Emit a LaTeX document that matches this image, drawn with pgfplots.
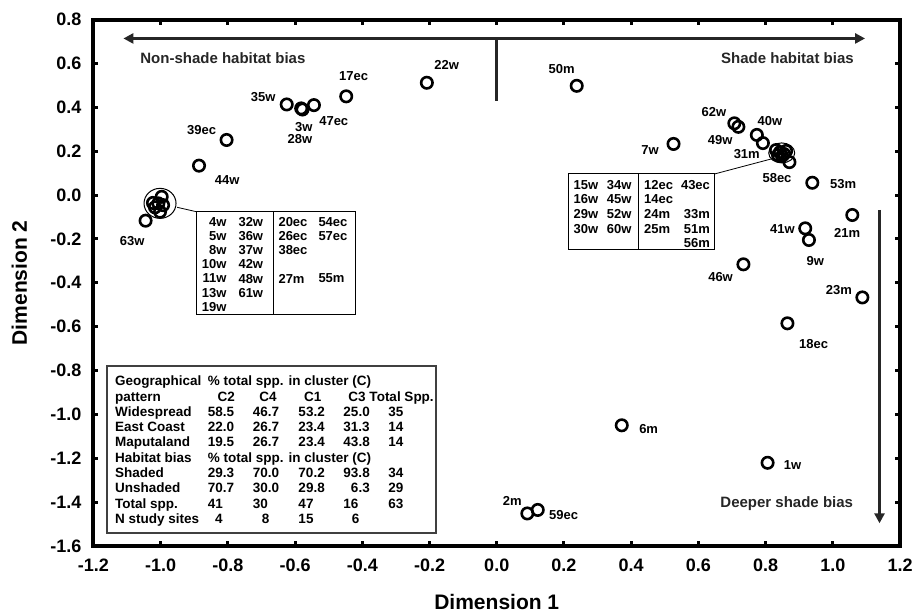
\documentclass[border=0pt]{standalone}
\usepackage{fontspec}
\setmainfont{Liberation Sans}
\usepackage{pgfplots}
\usepackage{pgfplotstable}
\pgfplotsset{compat=1.18}
\usetikzlibrary{arrows.meta}

% site scores on the two ordination dimensions
\pgfplotstableread{
x y
-0.208 0.512
-0.448 0.450
-0.544 0.410
-0.582 0.395
-0.578 0.390
-0.625 0.413
-0.804 0.251
-0.886 0.134
-1.045 -0.117
-0.997 -0.008
-1.007 -0.038
-1.017 -0.056
-1.002 -0.076
-0.993 -0.046
-1.023 -0.036
0.238 0.498
0.526 0.233
0.707 0.327
0.719 0.311
0.774 0.274
0.792 0.237
0.831 0.205
0.843 0.196
0.855 0.187
0.837 0.182
0.861 0.201
0.849 0.178
0.871 0.150
0.939 0.056
1.058 -0.091
0.918 -0.152
0.929 -0.205
0.734 -0.316
1.088 -0.467
0.865 -0.585
0.372 -1.050
0.806 -1.221
0.091 -1.452
0.122 -1.436
}\ordpts

\newcommand{\lbl}{\fontsize{13}{15}\selectfont\bfseries}
\newcommand{\ann}{\fontsize{15}{18}\selectfont\bfseries}

\begin{document}
\begin{tikzpicture}
\useasboundingbox (-93.5pt,-67.1pt) rectangle (818.5pt,545.9pt);
\begin{axis}[
  anchor=south west, at={(0pt,0pt)},
  scale only axis, width=806.5pt, height=526.3pt,
  xmin=-1.2, xmax=1.2, ymin=-1.6, ymax=0.8,
  xtick={-1.2,-1.0,-0.8,-0.6,-0.4,-0.2,0,0.2,0.4,0.6,0.8,1.0,1.2},
  ytick={-1.6,-1.4,-1.2,-1.0,-0.8,-0.6,-0.4,-0.2,0,0.2,0.4,0.6,0.8},
  tick align=inside,
  major tick length=5pt,
  tick style={line width=3pt, black},
  axis line style={line width=4pt, black},
  clip=false,
  /pgf/number format/.cd, fixed, fixed zerofill, precision=1, assume math mode=true,
  /pgfplots/.cd,
  ticklabel style={font=\fontsize{18}{20}\selectfont\bfseries, inner sep=0pt},
  xticklabel style={yshift=-12.4pt},
  yticklabel style={xshift=-11.8pt},
  xlabel={Dimension 1}, ylabel={Dimension 2},
  label style={font=\fontsize{21}{24}\selectfont\bfseries},
  xlabel style={at={(axis description cs:0.5,-0.1075)}, anchor=center},
  ylabel style={at={(axis description cs:-0.0918,0.5)}, anchor=center},
]

\addplot[only marks, mark=o, mark size=5.7pt, mark options={line width=2.6pt, draw=black}]
  table[x=x, y=y] {\ordpts};

% cluster outlines
\draw[line width=1pt] (axis cs:-1.002,-0.038) ellipse [x radius=16pt, y radius=15pt];
\draw[line width=1pt] (axis cs:0.848,0.192) ellipse [x radius=13pt, y radius=10pt];

% gradient arrows
\draw[line width=3pt, black!85, {Triangle[length=10pt,width=10pt]}-{Triangle[length=10pt,width=10pt]}]
  (axis cs:-1.111,0.714) -- (axis cs:1.096,0.714);
\draw[line width=3pt, black!85] (axis cs:0,0.714) -- (axis cs:0,0.43);
\draw[line width=3pt, black!85, -{Triangle[length=10pt,width=10pt]}]
  (axis cs:1.139,-0.068) -- (axis cs:1.139,-1.497);
\node[font=\ann, text=black!85] at (axis cs:-0.815,0.623) {Non-shade habitat bias};
\node[font=\ann, text=black!85] at (axis cs:0.865,0.622) {Shade habitat bias};
\node[font=\ann, text=black!85] at (axis cs:0.863,-1.406) {Deeper shade bias};

% point labels
\node[font=\lbl] at (axis cs:-0.149,0.591) {22w};
\node[font=\lbl] at (axis cs:-0.426,0.544) {17ec};
\node[font=\lbl] at (axis cs:-0.485,0.339) {47ec};
\node[font=\lbl] at (axis cs:-0.574,0.308) {3w};
\node[font=\lbl] at (axis cs:-0.586,0.254) {28w};
\node[font=\lbl] at (axis cs:-0.695,0.446) {35w};
\node[font=\lbl] at (axis cs:-0.878,0.296) {39ec};
\node[font=\lbl] at (axis cs:-0.802,0.068) {44w};
\node[font=\lbl] at (axis cs:-1.085,-0.208) {63w};
\node[font=\lbl] at (axis cs:0.193,0.575) {50m};
\node[font=\lbl] at (axis cs:0.646,0.377) {62w};
\node[font=\lbl] at (axis cs:0.813,0.337) {40w};
\node[font=\lbl] at (axis cs:0.665,0.251) {49w};
\node[font=\lbl] at (axis cs:0.744,0.186) {31m};
\node[font=\lbl] at (axis cs:0.456,0.205) {7w};
\node[font=\lbl] at (axis cs:0.834,0.079) {58ec};
\node[font=\lbl] at (axis cs:1.031,0.050) {53m};
\node[font=\lbl] at (axis cs:1.043,-0.172) {21m};
\node[font=\lbl] at (axis cs:0.850,-0.155) {41w};
\node[font=\lbl] at (axis cs:0.948,-0.301) {9w};
\node[font=\lbl] at (axis cs:0.666,-0.374) {46w};
\node[font=\lbl] at (axis cs:1.018,-0.435) {23m};
\node[font=\lbl] at (axis cs:0.943,-0.678) {18ec};
\node[font=\lbl] at (axis cs:0.452,-1.068) {6m};
\node[font=\lbl] at (axis cs:0.880,-1.233) {1w};
\node[font=\lbl] at (axis cs:0.046,-1.394) {2m};
\node[font=\lbl] at (axis cs:0.199,-1.461) {59ec};

% left cluster members
\draw[line width=0.8pt] (axis cs:-0.951,-0.056) -- (axis cs:-0.894,-0.076);
\draw[line width=1pt, fill=white] (axis cs:-0.894,-0.076) rectangle (axis cs:-0.419,-0.543);
\draw[line width=1pt] (axis cs:-0.665,-0.076) -- (axis cs:-0.665,-0.543);
\begin{scope}[every node/.style={font=\fontsize{13}{14.2}\selectfont\bfseries, inner sep=0pt}]
\node[align=right, anchor=north east] at (axis cs:-0.804,-0.100) {4w\\5w\\8w\\10w\\11w\\13w\\19w};
\node[align=left, anchor=north west] at (axis cs:-0.769,-0.100) {32w\\36w\\37w\\42w\\48w\\61w};
\node[align=left, anchor=north west] at (axis cs:-0.650,-0.100) {20ec\\26ec\\38ec\\\mbox{}\\27m};
\node[align=left, anchor=north west] at (axis cs:-0.531,-0.100) {54ec\\57ec\\\mbox{}\\\mbox{}\\55m};
\end{scope}

% right cluster members
\draw[line width=0.8pt] (axis cs:0.648,0.096) -- (axis cs:0.823,0.167);
\draw[line width=1pt, fill=white] (axis cs:0.213,0.096) rectangle (axis cs:0.648,-0.248);
\draw[line width=1pt] (axis cs:0.421,0.096) -- (axis cs:0.421,-0.248);
\begin{scope}[every node/.style={font=\fontsize{13}{14.7}\selectfont\bfseries, inner sep=0pt}]
\node[align=left, anchor=north west] at (axis cs:0.228,0.069) {15w\\16w\\29w\\30w};
\node[align=left, anchor=north west] at (axis cs:0.327,0.069) {34w\\45w\\52w\\60w};
\node[align=left, anchor=north west] at (axis cs:0.438,0.069) {12ec\\14ec\\24m\\25m};
\node[align=right, anchor=north east] at (axis cs:0.635,0.069) {43ec\\\mbox{}\\33m\\51m\\56m};
\end{scope}

% summary table
\draw[draw=black!75, line width=2pt, fill=white] (axis cs:-1.161,-0.780) rectangle (axis cs:-0.181,-1.540);
\node[anchor=north west, inner sep=0pt, font=\fontsize{13.5}{15.3}\selectfont\bfseries] at (axis cs:-1.136,-0.820) {%
\begin{tabular}{@{}p{92.7pt}@{}p{45pt}@{}p{45.6pt}@{}p{45pt}@{}p{45pt}@{}l@{}}
Geographical & \multicolumn{5}{@{}l@{}}{\% total spp. in cluster (C)}\\
pattern & \hspace*{9.6pt}C2 & \hspace*{6.6pt}C4 & \hspace*{5.7pt}C1 & \multicolumn{2}{@{}l@{}}{\hspace*{5pt}C3 Total Spp.}\\
Widespread & 58.5 & 46.7 & 53.2 & 25.0 & 35\\
East Coast & 22.0 & 26.7 & 23.4 & 31.3 & 14\\
Maputaland & 19.5 & 26.7 & 23.4 & 43.8 & 14\\
Habitat bias & \multicolumn{5}{@{}l@{}}{\% total spp. in cluster (C)}\\
Shaded & 29.3 & 70.0 & 70.2 & 93.8 & 34\\
Unshaded & 70.7 & 30.0 & 29.8 & \hphantom{0}6.3 & 29\\
Total spp. & 41 & 30 & 47 & 16 & 63\\
N study sites & \hspace*{7.3pt}4 & \hspace*{9pt}8 & 15 & \hspace*{8.4pt}6 & \\
\end{tabular}};

\end{axis}
\end{tikzpicture}
\end{document}
